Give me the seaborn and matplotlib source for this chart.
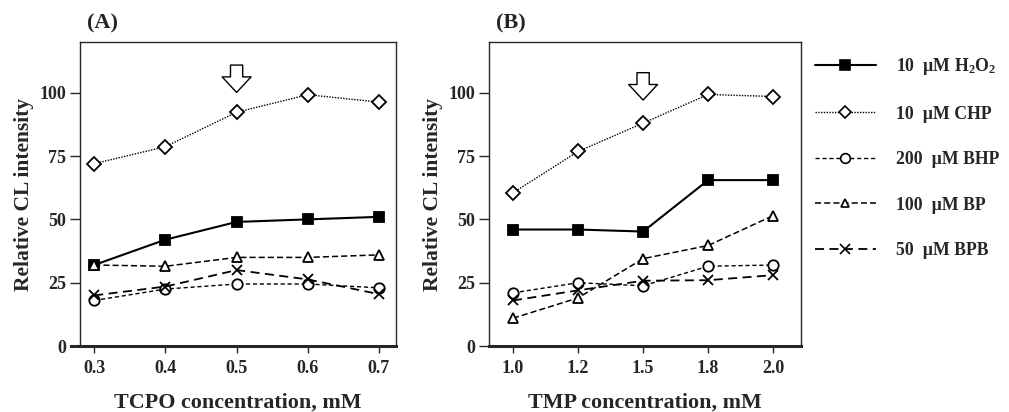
import matplotlib
matplotlib.use('Agg')
import matplotlib.pyplot as plt
import seaborn as sns
from matplotlib.lines import Line2D

# data
tcpo = [0.3, 0.4, 0.5, 0.6, 0.7]
tmp = ['1.0', '1.2', '1.5', '1.8', '2.0']

a_h2o2 = [32, 42, 49, 50, 51]
a_chp = [72, 78.7, 92.3, 99.2, 96.3]
a_bhp = [18, 22.5, 24.5, 24.5, 23]
a_bp = [32, 31.5, 35, 35, 36]
a_bpb = [20, 23.5, 30, 26.3, 20.5]

b_h2o2 = [46, 46, 45.2, 65.5, 65.5]
b_chp = [60.5, 76.8, 88, 99.3, 98.5]
b_bhp = [21, 25, 23.8, 31.5, 32]
b_bp = [11, 19, 34.5, 39.7, 51.5]
b_bpb = [18, 22, 25.8, 26, 28]

labels = ['10  µM $\\mathbf{H_2O_2}$', '10  µM CHP', '200  µM BHP',
          '100  µM BP', '50  µM BPB']

sns.set_style('ticks')
plt.rcParams['font.family'] = ['Liberation Serif', 'DejaVu Serif']
plt.rcParams['font.weight'] = 'bold'
plt.rcParams['mathtext.fontset'] = 'custom'
plt.rcParams['mathtext.bf'] = 'Liberation Serif:bold'
plt.rcParams['mathtext.rm'] = 'Liberation Serif:bold'

styles = [
    dict(marker='s', linestyle='-', lw=1.5, ms=7, mfc='black'),
    dict(marker='D', linestyle=(0, (1, 1)), lw=1.0, ms=7, mfc='white'),
    dict(marker='o', linestyle=(0, (3, 2)), lw=1.0, ms=7.5, mfc='white'),
    dict(marker='^', linestyle=(0, (4, 2)), lw=1.1, ms=6.5, mfc='white'),
    dict(marker='x', linestyle=(0, (5, 3)), lw=1.3, ms=7, mfc='white'),
]

fig = plt.figure(figsize=(10.09, 4.12), dpi=100)
ax1 = fig.add_axes([0.0793, 0.160, 0.3132, 0.738])
ax2 = fig.add_axes([0.4846, 0.160, 0.3094, 0.738])


def draw(ax, x, series):
    for y, st in zip(series, styles):
        sns.lineplot(x=x, y=y, ax=ax, color='black', marker=st['marker'],
                     linestyle=st['linestyle'], linewidth=st['lw'],
                     markersize=st['ms'], markerfacecolor=st['mfc'],
                     markeredgecolor='black', markeredgewidth=1.3,
                     sort=False)


draw(ax1, tcpo, [a_h2o2, a_chp, a_bhp, a_bp, a_bpb])
draw(ax2, tmp, [b_h2o2, b_chp, b_bhp, b_bp, b_bpb])

ax1.set_xlim(0.28, 0.724)
ax2.set_xlim(-0.37, 4.43)
ax1.set_xticks(tcpo)
ax1.set_xticklabels(['0.3', '0.4', '0.5', '0.6', '0.7'])
ax1.spines['bottom'].set_bounds(0.268, 0.724)
ax2.spines['bottom'].set_bounds(-0.37, 4.43)

for ax, xl, title in [(ax1, 'TCPO concentration, mM', '(A)'),
                      (ax2, 'TMP concentration, mM', '(B)')]:
    ax.set_ylim(0, 120)
    ax.set_yticks([0, 25, 50, 75, 100])
    ax.set_xlabel(xl, fontsize=15.8, fontweight='bold', labelpad=11)
    ax.set_ylabel('Relative CL intensity', fontsize=15.5, fontweight='bold',
                  labelpad=4)
    ax.text(0.022, 1.027, title, transform=ax.transAxes, fontsize=16,
            fontweight='bold', va='bottom')
    ax.tick_params(axis='y', length=7, width=1, labelsize=13, pad=3)
    ax.tick_params(axis='x', length=5, width=1, labelsize=13, pad=5)
    for s in ['top', 'right', 'left']:
        ax.spines[s].set_linewidth(1.0)
    ax.spines['bottom'].set_linewidth(2.2)
    for t in ax.get_xticklabels() + ax.get_yticklabels():
        t.set_fontweight('bold')

# hollow arrows at the chosen concentrations
arrow = dict(arrowstyle='simple,head_length=0.7,head_width=1.3,tail_width=0.55',
             fc='white', ec='black', lw=1.0, mutation_scale=16)
ax1.annotate('', xy=(0.5, 99), xytext=(0.5, 112), arrowprops=arrow)
ax2.annotate('', xy=(2, 96), xytext=(2, 109), arrowprops=arrow)

handles = [Line2D([], [], color='black', marker=st['marker'],
                  linestyle=st['linestyle'], linewidth=st['lw'],
                  markersize=st['ms'] - 0.5, markerfacecolor=st['mfc'],
                  markeredgecolor='black', markeredgewidth=1.2)
           for st in styles]
fig.legend(handles, labels, loc='upper left', bbox_to_anchor=(0.799, 0.885),
           frameon=False, handlelength=3.4, handletextpad=1.15,
           labelspacing=1.6, borderpad=0, prop={'weight': 'bold', 'size': 12.8})

fig.savefig('out.png', dpi=100)
